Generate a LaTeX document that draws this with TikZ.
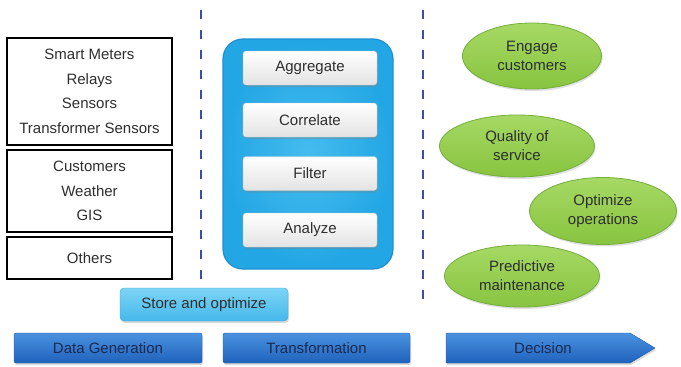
\documentclass[tikz,border=0pt]{standalone}
\usepackage{fontspec}
\setmainfont{Liberation Sans}
\usetikzlibrary{shapes.geometric,shadows}
\definecolor{sepblue}{HTML}{3A4FA8}
\definecolor{txtgray}{HTML}{2E2E2E}
\definecolor{contblue}{HTML}{22A6E4}
\definecolor{contlight}{HTML}{45BCEF}
\definecolor{contedge}{HTML}{1E8FD2}
\definecolor{storetop}{HTML}{7DD4F6}
\definecolor{storebot}{HTML}{45B8EA}
\definecolor{storeedge}{HTML}{38A6DA}
\definecolor{phasetop}{HTML}{4A92E0}
\definecolor{phasebot}{HTML}{1F62BC}
\definecolor{phaseedge}{HTML}{1D58A8}
\definecolor{phasetxt}{HTML}{1A2A50}
\definecolor{leaftop}{HTML}{A6D964}
\definecolor{leafbot}{HTML}{88C440}
\definecolor{leafedge}{HTML}{72AE3C}
\tikzset{
  sourcebox/.style={draw=black, line width=1.8pt, minimum width=165pt, inner sep=0pt,
    align=center, text=txtgray, font=\fontsize{15}{24.5}\selectfont},
  container/.style={draw=contedge, line width=1.2pt, rounded corners=20pt,
    inner color=contlight, outer color=contblue, minimum width=170pt, minimum height=230pt},
  stepbox/.style={draw=gray!45, rounded corners=3pt, top color=white, bottom color=gray!22,
    minimum width=134pt, minimum height=34pt, text=txtgray,
    drop shadow={shadow xshift=1pt, shadow yshift=-2pt, opacity=0.35}},
  storebox/.style={draw=storeedge, rounded corners=4pt, top color=storetop, bottom color=storebot,
    minimum width=168pt, minimum height=33pt, text=txtgray,
    drop shadow={shadow xshift=1pt, shadow yshift=-2pt, opacity=0.3}},
  phasebox/.style={draw=phaseedge, rounded corners=2pt, top color=phasetop, bottom color=phasebot,
    minimum height=30pt, text=phasetxt,
    drop shadow={shadow xshift=1pt, shadow yshift=-2pt, opacity=0.3}},
  phasearrow/.style={draw=phaseedge, top color=phasetop, bottom color=phasebot,
    drop shadow={shadow xshift=1pt, shadow yshift=-2pt, opacity=0.3}},
  leaf/.style={ellipse, draw=leafedge, line width=0.8pt, top color=leaftop, bottom color=leafbot,
    inner sep=0pt, align=center, text=txtgray, font=\fontsize{15}{19}\selectfont,
    drop shadow={shadow xshift=1pt, shadow yshift=-2pt, opacity=0.25}},
  sepline/.style={draw=sepblue, line width=2.4pt, dash pattern=on 8.5pt off 11.5pt},
}
\begin{document}
\begin{tikzpicture}[x=1pt,y=-1pt,font=\fontsize{15}{19}\selectfont]
\useasboundingbox (0,0) rectangle (681,367);

% left data sources
\node[sourcebox, minimum height=107pt] (src1) at (89.5,91.5)
  {Smart Meters\\Relays\\Sensors\\Transformer Sensors};
\node[sourcebox, minimum height=82pt] (src2) at (89.5,191)
  {Customers\\Weather\\GIS};
\node[sourcebox, minimum height=42pt] (src3) at (89.5,258) {Others};

% transformation container
\node[container] (cont) at (308,154) {};
\node[stepbox] (agg) at (310,68) {Aggregate};
\node[stepbox] (cor) at (310,120) {Correlate};
\node[stepbox] (fil) at (310,173.5) {Filter};
\node[stepbox] (ana) at (310,230) {Analyze};

% store
\node[storebox] (store) at (204,304.5) {Store and optimize};

% separators
\coordinate (s1top) at (201,10);
\draw[sepline] (s1top) -- (s1top |- store.north);
\coordinate (s2top) at (423,10);
\coordinate (s2bot) at (423,309);
\draw[sepline] (s2top) -- (s2bot);

% decisions
\node[leaf, minimum width=139pt, minimum height=66pt] (eng) at (532,56) {Engage\\customers};
\node[leaf, minimum width=155pt, minimum height=62pt] (qos) at (517,146) {Quality of\\service};
\node[leaf, minimum width=147pt, minimum height=67pt] (opt) at (603,211) {Optimize\\operations};
\node[leaf, minimum width=155pt, minimum height=62pt] (pm) at (522,276) {Predictive\\maintenance};

% phases
\node[phasebox, minimum width=188pt] (gen) at (108,348) {Data Generation};
\node[phasebox, minimum width=187pt] (trf) at (316.5,348) {Transformation};
\path[phasearrow] (446,333) -- (630,333) -- (655,348) -- (630,363) -- (446,363) -- cycle;
\node[text=phasetxt] (dec) at (543,348) {Decision};
\end{tikzpicture}
\end{document}
